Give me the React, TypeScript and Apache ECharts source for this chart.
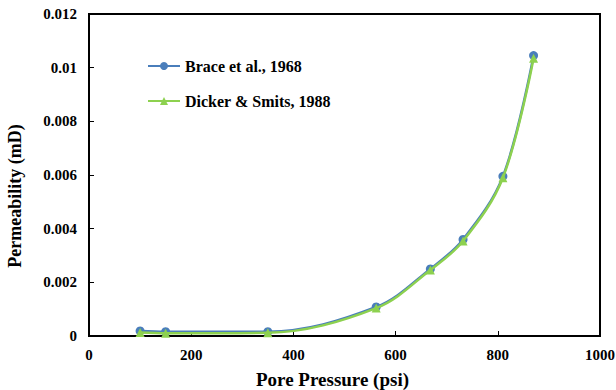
import React, { useEffect, useRef } from "react";
import * as echarts from "echarts";

const pressure = [100, 150, 350, 562, 668, 732, 810, 870];
const brace = [0.00019, 0.00016, 0.00016, 0.00108, 0.0025, 0.0036, 0.00595, 0.01045];
const dicker = [0.00013, 0.0001, 0.00012, 0.00104, 0.00246, 0.00354, 0.0059, 0.01035];
const seriesNames = ["Brace et al., 1968", "Dicker & Smits, 1988"];

const FONT = "'Liberation Serif', 'Times New Roman', serif";

export default function App() {
  const ref = useRef<HTMLDivElement>(null);
  useEffect(() => {
    if (!ref.current) return;
    const chart = echarts.init(ref.current, undefined, { renderer: "svg" });
    chart.setOption({
      animation: false,
      backgroundColor: "#ffffff",
      grid: {
        left: 89,
        right: 16,
        top: 14,
        bottom: 54,
        show: true,
        borderColor: "#000",
        borderWidth: 2,
        containLabel: false,
        outerBoundsMode: "none",
      },
      legend: {
        orient: "vertical",
        left: 142,
        top: 53,
        itemGap: 19,
        itemWidth: 32,
        itemHeight: 10,
        textStyle: { fontFamily: FONT, fontWeight: "bold", fontSize: 16, color: "#000" },
        data: seriesNames,
      },
      xAxis: {
        type: "value",
        min: 0,
        max: 1000,
        interval: 200,
        name: "Pore Pressure (psi)",
        nameLocation: "middle",
        nameGap: 34,
        nameTextStyle: {
          fontFamily: FONT,
          fontWeight: "bold",
          fontSize: 19,
          color: "#000",
          padding: [0, 24, 0, 0],
        },
        axisLine: { show: true, lineStyle: { color: "#000", width: 2 } },
        axisTick: { show: true, inside: true, length: 5, lineStyle: { color: "#000" } },
        axisLabel: {
          fontFamily: FONT,
          fontWeight: "bold",
          fontSize: 15,
          color: "#000",
          margin: 11,
          formatter: (v: number) => String(v),
        },
        splitLine: { show: false },
      },
      yAxis: {
        type: "value",
        min: 0,
        max: 0.012,
        interval: 0.002,
        name: "Permeability (mD)",
        nameLocation: "middle",
        nameGap: 65,
        nameTextStyle: {
          fontFamily: FONT,
          fontWeight: "bold",
          fontSize: 18,
          color: "#000",
          padding: [0, 42, 0, 0],
        },
        axisLine: { show: true, lineStyle: { color: "#000", width: 2 } },
        axisTick: { show: true, inside: true, length: 5, lineStyle: { color: "#000" } },
        axisLabel: { fontFamily: FONT, fontWeight: "bold", fontSize: 15, color: "#000", margin: 12 },
        splitLine: { show: false },
      },
      series: [
        {
          name: seriesNames[0],
          type: "line",
          data: pressure.map((p, i) => [p, brace[i]]),
          smooth: 0.35,
          symbol: "circle",
          symbolSize: 9,
          showAllSymbol: true,
          lineStyle: { color: "#4A7EBB", width: 2.5 },
          itemStyle: { color: "#4A7EBB" },
          z: 2,
        },
        {
          name: seriesNames[1],
          type: "line",
          data: pressure.map((p, i) => [p, dicker[i]]),
          smooth: 0.35,
          symbol: "triangle",
          symbolSize: 9,
          showAllSymbol: true,
          lineStyle: { color: "#8DD14F", width: 2.5 },
          itemStyle: { color: "#8DD14F" },
          z: 3,
        },
      ],
    });
    return () => chart.dispose();
  }, []);
  return (
    <div
      ref={ref}
      style={{ position: "fixed", left: 0, top: 0, width: 616, height: 390 }}
    />
  );
}
